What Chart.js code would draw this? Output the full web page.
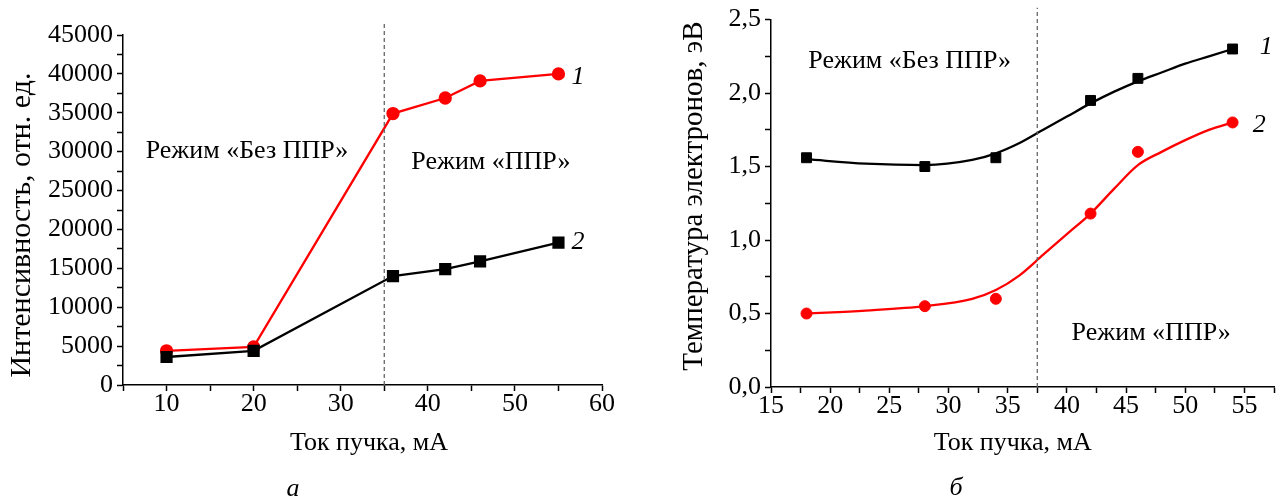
<!DOCTYPE html>
<html><head><meta charset="utf-8">
<script src="https://cdn.jsdelivr.net/npm/chart.js@4.4.1/dist/chart.umd.min.js"></script>
<style>
html,body{margin:0;padding:0;background:#fff;}
body{width:1282px;height:500px;position:relative;overflow:hidden;font-family:"Liberation Serif","Times New Roman",serif;}
.box{position:absolute;top:0;height:500px;}
#boxA{left:0;width:640px;}
#boxB{left:640px;width:642px;}
.cap{position:absolute;font-style:italic;font-size:26px;transform:translate(-50%,-50%);color:#000;}
</style></head><body>
<div class="box" id="boxA"><canvas id="chartA"></canvas></div>
<div class="box" id="boxB"><canvas id="chartB"></canvas></div>
<div class="cap" style="left:293px;top:488px">а</div>
<div class="cap" style="left:956px;top:487px">б</div>
<script>
// ---- Chart (а): intensity vs beam current ----
const currentA = [10, 20, 36, 42, 46, 55];
const intensity1 = [4400, 4900, 34900, 36900, 39100, 40000];
const intensity2 = [3600, 4400, 14000, 14900, 15900, 18300];
const dividerA = 35;

// ---- Chart (б): electron temperature vs beam current ----
const currentB = [18, 28, 34, 42, 46, 54];
const temp1 = [1.56, 1.50, 1.56, 1.95, 2.10, 2.30];
const temp2 = [0.50, 0.55, 0.60, 1.18, 1.60, 1.80];
// smooth fit curves
const fitX = [18, 23, 28, 32, 34, 36, 38, 40, 42, 44, 46, 48, 50, 52, 54];
const fit1 = [1.55, 1.52, 1.51, 1.545, 1.59, 1.66, 1.75, 1.84, 1.93, 2.01, 2.08, 2.14, 2.20, 2.25, 2.30];
const fit2 = [0.50, 0.52, 0.55, 0.60, 0.66, 0.76, 0.90, 1.04, 1.18, 1.35, 1.51, 1.60, 1.68, 1.75, 1.80];
const dividerB = 37.5;

// tick labels
const xTicksA = [10, 20, 30, 40, 50, 60];
const yTicksA = [0, 5000, 10000, 15000, 20000, 25000, 30000, 35000, 40000, 45000];
const xTicksB = [15, 20, 25, 30, 35, 40, 45, 50, 55];
const yTicksB = ['0,0', '0,5', '1,0', '1,5', '2,0', '2,5'];

const FONT = '"Liberation Serif", "Times New Roman", serif';
Chart.defaults.font.family = FONT;
Chart.defaults.color = '#000';

const pts = (xs, ys) => xs.map((x, i) => ({x, y: ys[i]}));
const NB = n => '\u00A0'.repeat(n);

const notesPlugin = {
  id: 'notes',
  afterDatasetsDraw(chart, args, opts) {
    const {ctx, scales: {x, y}} = chart;
    ctx.save();
    ctx.fillStyle = '#000';
    ctx.textBaseline = 'middle';
    (opts.items || []).forEach(it => {
      ctx.font = it.font;
      ctx.textAlign = it.align || 'left';
      ctx.fillText(it.text, x.getPixelForValue(it.x), y.getPixelForValue(it.y));
    });
    ctx.restore();
  }
};

function axisCommon() {
  return {
    grid: {display: true, drawOnChartArea: false, drawTicks: true, tickLength: 6, tickColor: '#000', tickWidth: 1.5},
    border: {display: true, color: '#000', width: 1.5},
  };
}
const TS = 26;
const tickFont = {family: FONT, size: TS};
const near = (v, s) => Math.abs(v / s - Math.round(v / s)) < 1e-6;
const noteFont = TS + 'px ' + FONT;
const numFont = 'italic ' + TS + 'px ' + FONT;

// ---------- Chart A ----------
new Chart(document.getElementById('chartA'), {
  type: 'line',
  data: {
    datasets: [
      {data: pts([dividerA, dividerA], [0, 46500]), borderColor: '#666', borderWidth: 1.3, borderDash: [4, 3], pointRadius: 0, clip: false},
      {data: pts(currentA, intensity2), borderColor: '#000', backgroundColor: '#000', borderWidth: 2.3,
       pointStyle: 'rect', pointRadius: 7, tension: 0},
      {data: pts(currentA, intensity1), borderColor: '#ff0000', backgroundColor: '#ff0000', borderWidth: 2.3,
       pointStyle: 'circle', pointRadius: 5.5, tension: 0},
    ]
  },
  options: {
    responsive: true, maintainAspectRatio: false, animation: false, devicePixelRatio: 1,
    layout: {padding: {left: 0, right: 38, top: 35, bottom: 0}},
    plugins: {
      legend: {display: false}, tooltip: {enabled: false},
      notes: {items: [
        {text: 'Режим «Без ППР»', x: 7.6, y: 30100, font: noteFont},
        {text: 'Режим «ППР»', x: 38.1, y: 28600, font: noteFont},
        {text: '1', x: 56.5, y: 39600, font: numFont},
        {text: '2', x: 56.5, y: 18300, font: numFont},
      ]}
    },
    scales: {
      x: Object.assign(axisCommon(), {
        type: 'linear', min: 5, max: 60,
        ticks: {stepSize: 5, autoSkip: false, maxRotation: 0, padding: -2, font: tickFont,
          callback: v => xTicksA.includes(v) ? String(v) : ''},
        title: {display: true, text: NB(2) + 'Ток пучка, мА', font: {family: FONT, size: TS}, padding: {top: 0, bottom: 41}},
        afterFit: s => { s.height = 115; }
      }),
      y: Object.assign(axisCommon(), {
        type: 'linear', min: 0, max: 45000,
        ticks: {stepSize: 2500, autoSkip: false, padding: 4, font: tickFont,
          callback: v => yTicksA.includes(v) ? String(v) : ''},
        title: {display: true, text: 'Интенсивность, отн. ед.' + NB(4), font: {family: FONT, size: 30}, padding: {top: 4, bottom: 0}},
        afterFit: s => { s.width = 123; }
      })
    }
  },
  plugins: [notesPlugin]
});

// ---------- Chart B ----------
new Chart(document.getElementById('chartB'), {
  type: 'line',
  data: {
    datasets: [
      {data: pts([dividerB, dividerB], [0, 2.58]), borderColor: '#666', borderWidth: 1.3, borderDash: [4, 3], pointRadius: 0, clip: false},
      {data: pts(fitX, fit1), borderColor: '#000', borderWidth: 2.3, pointRadius: 0, cubicInterpolationMode: 'monotone'},
      {data: pts(fitX, fit2), borderColor: '#ff0000', borderWidth: 2.3, pointRadius: 0, cubicInterpolationMode: 'monotone'},
      {data: pts(currentB, temp1), showLine: false, borderColor: '#000', backgroundColor: '#000',
       pointStyle: 'rect', pointRadius: 7},
      {data: pts(currentB, temp2), showLine: false, borderColor: '#ff0000', backgroundColor: '#ff0000',
       pointStyle: 'circle', pointRadius: 5.5},
    ]
  },
  options: {
    responsive: true, maintainAspectRatio: false, animation: false, devicePixelRatio: 1,
    layout: {padding: {left: 0, right: 7, top: 17, bottom: 0}},
    plugins: {
      legend: {display: false}, tooltip: {enabled: false},
      notes: {items: [
        {text: 'Режим «Без ППР»', x: 18.15, y: 2.22, font: noteFont},
        {text: 'Режим «ППР»', x: 40.4, y: 0.365, font: noteFont},
        {text: '1', x: 56.3, y: 2.31, font: numFont},
        {text: '2', x: 55.7, y: 1.78, font: numFont},
      ]}
    },
    scales: {
      x: Object.assign(axisCommon(), {
        type: 'linear', min: 15, max: 57.5,
        ticks: {stepSize: 2.5, autoSkip: false, maxRotation: 0, padding: -2, font: tickFont,
          callback: v => xTicksB.includes(v) ? String(v) : ''},
        title: {display: true, text: 'Ток пучка, мА' + NB(3), font: {family: FONT, size: TS}, padding: {top: 0, bottom: 41}},
        afterFit: s => { s.height = 113; }
      }),
      y: Object.assign(axisCommon(), {
        type: 'linear', min: 0, max: 2.5,
        ticks: {stepSize: 0.25, autoSkip: false, padding: 4, font: tickFont,
          callback: v => near(v, 0.5) ? yTicksB[Math.round(v / 0.5)] : ''},
        title: {display: true, text: NB(2) + 'Температура электронов, эВ', font: {family: FONT, size: 29}, padding: {top: 37, bottom: 0}},
        afterFit: s => { s.width = 131; }
      })
    }
  },
  plugins: [notesPlugin]
});
</script>
</body></html>
